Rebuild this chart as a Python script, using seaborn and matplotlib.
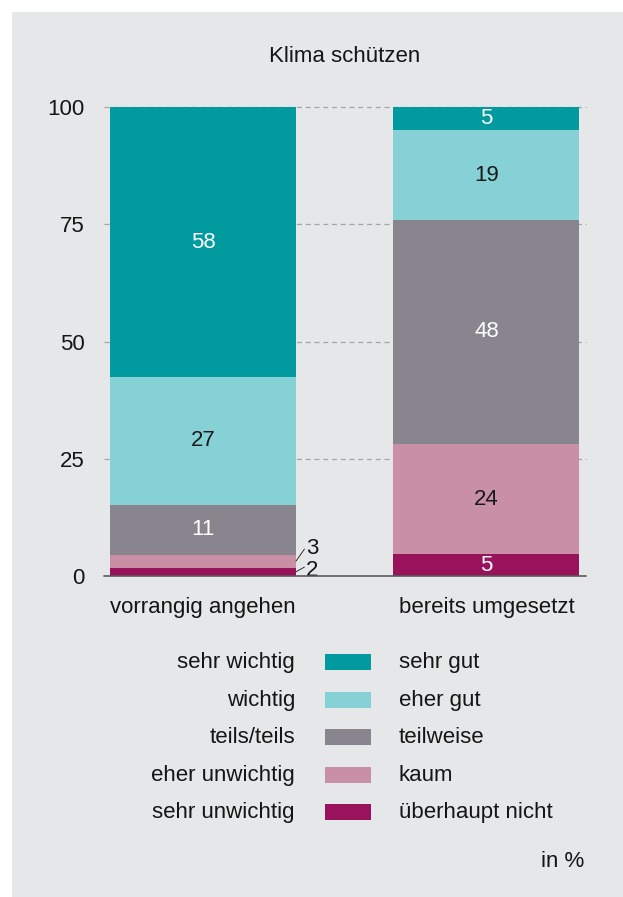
import numpy as np
import pandas as pd
import seaborn as sns
import matplotlib.pyplot as plt
from matplotlib.patches import Rectangle

groups = ['vorrangig angehen', 'bereits umgesetzt']

# segments from bottom to top
left_values = [1.8, 2.7, 10.7, 27.2, 57.6]
right_values = [4.6, 23.6, 47.8, 19.0, 5.0]

left_names = ['sehr unwichtig', 'eher unwichtig', 'teils/teils', 'wichtig', 'sehr wichtig']
right_names = ['überhaupt nicht', 'kaum', 'teilweise', 'eher gut', 'sehr gut']

colors = ['#98135c', '#c990a5', '#88858f', '#86d1d6', '#009a9f']
text_colors = ['white', '#1a1a1a', 'white', '#1a1a1a', 'white']

y_ticks = [0, 25, 50, 75, 100]

bg = '#e6e7e9'
ink = '#151515'
fs = 16

sns.set_theme(style='white')
plt.rcParams['font.family'] = ['Liberation Sans', 'DejaVu Sans']

fig = plt.figure(figsize=(6.23, 8.97), dpi=100)
fig.patch.set_facecolor('white')
fig.patches.append(Rectangle((12 / 623, 0), 1, 1 - 12 / 897, transform=fig.transFigure,
                             facecolor=bg, edgecolor='none', zorder=-10))

ax = fig.add_axes([104 / 623, 1 - 576 / 897, 482 / 623, 469 / 897])
ax.set_facecolor('none')

df = pd.DataFrame({'group': groups})
cum = np.cumsum([left_values, right_values], axis=1)

# draw stacked bars from the top layer down
for k in range(len(colors) - 1, -1, -1):
    df['top'] = cum[:, k]
    sns.barplot(data=df, x='group', y='top', color=colors[k], width=0.656,
                saturation=1, ax=ax, zorder=2, linewidth=0)

# segment labels
for i, vals in enumerate([left_values, right_values]):
    base = 0
    for k, v in enumerate(vals):
        lab = str(int(round(v)))
        mid = base + v / 2
        if v >= 4:
            ax.text(i, mid, lab, ha='center', va='center', color=text_colors[k],
                    fontsize=fs, zorder=4)
        base += v

# small labels outside the left bar with leader lines
bar_edge = 0.328
ax.plot([bar_edge, bar_edge + 0.03], [left_values[0] / 2, left_values[0] / 2 + 1.0],
        color=ink, lw=0.6, zorder=4, clip_on=False)
ax.text(bar_edge + 0.035, 1.1, str(int(round(left_values[0]))), ha='left', va='center',
        color=ink, fontsize=fs)
ax.plot([bar_edge, bar_edge + 0.03], [left_values[0] + left_values[1] / 2,
                                      left_values[0] + left_values[1] / 2 + 2.6],
        color=ink, lw=0.6, zorder=4, clip_on=False)
ax.text(bar_edge + 0.035, 5.9, str(int(round(left_values[1]))), ha='left', va='center',
        color=ink, fontsize=fs)

ax.set_xlim(-0.349, 1.351)
ax.set_ylim(0, 100)
ax.set_yticks(y_ticks)
ax.set_yticklabels([str(t) for t in y_ticks], fontsize=fs, color=ink)
ax.tick_params(axis='y', length=0, pad=14)
ax.tick_params(axis='x', length=0, pad=15, labelsize=fs, labelcolor=ink)
ax.set_xlabel('')
ax.set_ylabel('')

for t in y_ticks[1:]:
    ax.axhline(t, color='#a5a5a8', lw=0.9, ls=(0, (4, 3)), zorder=1, clip_on=False)
ax.axhline(0, color='#5a5a5a', lw=1.2, zorder=3, clip_on=False)
for s in ax.spines.values():
    s.set_visible(False)

fig.text(345 / 623, 1 - 57 / 897, 'Klima schützen', ha='center', va='center',
         fontsize=fs, color=ink)

# custom legend: left names | colour patch | right names
row_y = [662, 700, 737, 775, 812]
for k in range(len(colors)):
    j = len(colors) - 1 - k
    y = 1 - row_y[k] / 897
    fig.text(295 / 623, y, left_names[j], ha='right', va='center', fontsize=fs, color=ink)
    fig.text(399 / 623, y, right_names[j], ha='left', va='center', fontsize=fs, color=ink)
    fig.patches.append(Rectangle((325 / 623, y - 8 / 897), 46 / 623, 16 / 897,
                                 transform=fig.transFigure, facecolor=colors[j],
                                 edgecolor='none', zorder=2))

fig.text(584 / 623, 1 - 861 / 897, 'in %', ha='right', va='center', fontsize=fs, color=ink)

fig.savefig('out.png', dpi=100, facecolor=fig.get_facecolor())
